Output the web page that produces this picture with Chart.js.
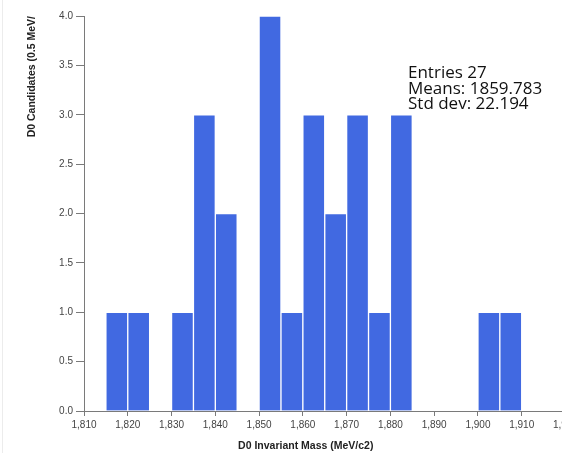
<!DOCTYPE html>
<html>
<head>
<meta charset="utf-8">
<script src="https://cdn.jsdelivr.net/npm/chart.js@4.4.0/dist/chart.umd.min.js"></script>
<style>
html, body { margin: 0; padding: 0; background: #fff; overflow: hidden; }
#wrap { position: relative; width: 562px; height: 455px; overflow: hidden; }
#edge { position: absolute; left: 2px; top: 0; width: 1px; height: 453px; background: #ececec; }
</style>
</head>
<body>
<div id="wrap">
  <canvas id="myChart" width="581" height="455"></canvas>
  <div id="edge"></div>
</div>
<script>
// histogram bins, 5 MeV wide
const binCenters = [1817.5, 1822.5, 1827.5, 1832.5, 1837.5, 1842.5, 1847.5, 1852.5, 1857.5, 1862.5,
                    1867.5, 1872.5, 1877.5, 1882.5, 1887.5, 1892.5, 1897.5, 1902.5, 1907.5];
const counts = [1, 1, 0, 1, 3, 2, 0, 4, 1, 3, 2, 3, 1, 3, 0, 0, 0, 1, 1];

const xRange = [1810, 1920];
const yRange = [0, 4];
const statLines = ["Entries 27", "Means: 1859.783", "Std dev: 22.194"];
const xTitle = "D0 Invariant Mass (MeV/c2)";
const yTitle = "D0 Candidates (0.5 MeV/";

const AXIS_COLOR = '#7a7a7a';
const BAR_COLOR = '#4169e1';
const LABEL_FONT = '"Liberation Sans", Arial, sans-serif';

const statsBox = {
  id: 'statsBox',
  afterDraw(chart) {
    const ctx = chart.ctx;
    const ca = chart.chartArea;
    ctx.save();
    // x axis title
    ctx.font = 'bold 10.5px ' + LABEL_FONT;
    ctx.fillStyle = '#222';
    ctx.textAlign = 'center';
    ctx.textBaseline = 'middle';
    ctx.fillText(xTitle, (ca.left + ca.right) / 2 - 19, 446);
    // stats text
    ctx.font = '17px "Open Sans", sans-serif';
    ctx.fillStyle = '#111';
    ctx.textAlign = 'left';
    ctx.textBaseline = 'alphabetic';
    for (let i = 0; i < statLines.length; i++) {
      ctx.fillText(statLines[i], 408, 78 + i * 15.5);
    }
    ctx.restore();
  }
};

const data = {
  datasets: [{
    data: binCenters.map((x, i) => ({x: x, y: counts[i]})),
    backgroundColor: BAR_COLOR,
    borderColor: '#ffffff',
    borderWidth: 1,
    barPercentage: 1,
    categoryPercentage: 1
  }]
};

const config = {
  type: 'bar',
  data: data,
  options: {
    responsive: false,
    animation: false,
    layout: { padding: { top: 16, left: 0, right: 0, bottom: 0 } },
    plugins: {
      legend: { display: false },
      tooltip: { enabled: false }
    },
    scales: {
      x: {
        type: 'linear',
        min: xRange[0],
        max: xRange[1],
        offset: false,
        grid: { offset: false, drawOnChartArea: false, tickLength: 5, color: AXIS_COLOR },
        border: { color: AXIS_COLOR },
        ticks: {
          stepSize: 10,
          maxRotation: 0,
          autoSkip: false,
          padding: 3,
          color: '#444',
          font: { family: LABEL_FONT, size: 10 }
        },
        afterFit(scale) { scale.height = 44; }
      },
      y: {
        min: yRange[0],
        max: yRange[1],
        grid: { drawOnChartArea: false, tickLength: 8, color: AXIS_COLOR },
        border: { color: AXIS_COLOR },
        ticks: {
          stepSize: 0.5,
          padding: 3,
          color: '#444',
          font: { family: LABEL_FONT, size: 10 },
          callback: v => v.toFixed(1)
        },
        title: {
          display: true,
          text: yTitle,
          align: 'end',
          color: '#222',
          padding: { top: 26, bottom: 0 },
          font: { family: LABEL_FONT, size: 10.5, weight: 'bold' }
        },
        afterFit(scale) { scale.width = 84; }
      }
    }
  },
  plugins: [statsBox]
};

const myChart = new Chart(document.getElementById('myChart'), config);
</script>
</body>
</html>
